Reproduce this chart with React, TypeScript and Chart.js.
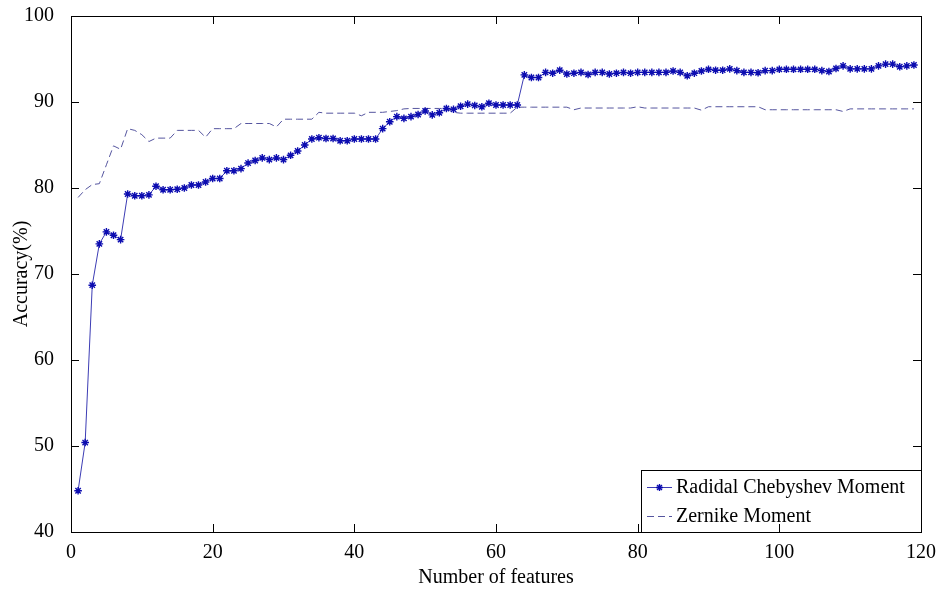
import { useEffect, useRef } from "react";
import { Chart, registerables } from "chart.js";

Chart.register(...registerables);

// Classification accuracy (%) for 1..119 selected features
const radialChebyshev = [
  44.8, 50.4, 68.7, 73.5, 74.9, 74.5, 74.0, 79.3, 79.1, 79.1,
  79.2, 80.2, 79.8, 79.8, 79.85, 80.0, 80.35, 80.35, 80.7, 81.1,
  81.1, 82.0, 82.0, 82.25, 82.9, 83.2, 83.5, 83.3, 83.5, 83.3,
  83.8, 84.3, 85.0, 85.7, 85.85, 85.75, 85.75, 85.5, 85.5, 85.7,
  85.7, 85.7, 85.7, 86.9, 87.7, 88.3, 88.1, 88.3, 88.55, 88.95,
  88.5, 88.75, 89.25, 89.15, 89.5, 89.75, 89.6, 89.45, 89.85, 89.65,
  89.65, 89.65, 89.65, 93.15, 92.85, 92.85, 93.45, 93.35, 93.7, 93.25,
  93.35, 93.45, 93.2, 93.45, 93.45, 93.25, 93.35, 93.45, 93.35, 93.45,
  93.45, 93.45, 93.45, 93.45, 93.6, 93.45, 93.05, 93.35, 93.6, 93.8,
  93.7, 93.7, 93.85, 93.65, 93.45, 93.45, 93.4, 93.65, 93.65, 93.8,
  93.8, 93.8, 93.8, 93.8, 93.8, 93.65, 93.55, 93.9, 94.2, 93.85,
  93.85, 93.85, 93.85, 94.2, 94.4, 94.4, 94.1, 94.2, 94.3,
];

const zernike = [
  78.9, 79.8, 80.4, 80.5, 82.7, 84.9, 84.5, 86.9, 86.7, 86.2,
  85.4, 85.8, 85.8, 85.8, 86.7, 86.7, 86.7, 86.7, 85.9, 86.9,
  86.9, 86.9, 86.9, 87.5, 87.5, 87.5, 87.5, 87.5, 87.1, 88.0,
  88.0, 88.0, 88.0, 88.0, 88.8, 88.7, 88.7, 88.7, 88.7, 88.7,
  88.4, 88.8, 88.8, 88.8, 88.9, 89.0, 89.2, 89.25, 89.25, 89.25,
  89.25, 89.25, 89.25, 88.8, 88.7, 88.7, 88.7, 88.7, 88.7, 88.7,
  88.7, 88.7, 89.4, 89.4, 89.4, 89.4, 89.4, 89.4, 89.4, 89.4,
  89.1, 89.3, 89.3, 89.3, 89.3, 89.3, 89.3, 89.3, 89.3, 89.45,
  89.3, 89.3, 89.3, 89.3, 89.3, 89.3, 89.3, 89.3, 89.05, 89.45,
  89.45, 89.45, 89.45, 89.45, 89.45, 89.45, 89.45, 89.1, 89.1, 89.1,
  89.1, 89.1, 89.1, 89.1, 89.1, 89.1, 89.1, 89.1, 88.9, 89.2,
  89.2, 89.2, 89.2, 89.2, 89.2, 89.2, 89.2, 89.2, 89.2,
];

// Number of features used for each accuracy value
const featureCounts = radialChebyshev.map((_, i) => i + 1);

const seriesNames = ["Radidal Chebyshev Moment", "Zernike Moment"];
const xTickValues = [0, 20, 40, 60, 80, 100, 120];
const yTickValues = [40, 50, 60, 70, 80, 90, 100];
const xTitle = "Number of features";
const yTitle = "Accuracy(%)";

const FONT = '"Liberation Serif", "Times New Roman", serif';
const CHEB_LINE = "#3c3cb4";
const CHEB_MARK = "#0c0cb0";
const ZERN_LINE = "#55559f";
const ZERN_DASH = [7, 4];

function drawStar(ctx: CanvasRenderingContext2D, x: number, y: number, r: number) {
  const d = r * Math.SQRT1_2;
  ctx.beginPath();
  ctx.moveTo(x - r, y);
  ctx.lineTo(x + r, y);
  ctx.moveTo(x, y - r);
  ctx.lineTo(x, y + r);
  ctx.moveTo(x - d, y - d);
  ctx.lineTo(x + d, y + d);
  ctx.moveTo(x - d, y + d);
  ctx.lineTo(x + d, y - d);
  ctx.stroke();
}

// Box frame, inward ticks on all four sides and the south-east legend
const framePlugin = {
  id: "boxFrame",
  afterDatasetsDraw(chart: any) {
    const { ctx, chartArea: a, scales } = chart;
    ctx.save();

    // legend box
    const lw = 280;
    const lh = 62;
    const lx = a.right - lw;
    const ly = a.bottom - lh;
    ctx.fillStyle = "#fff";
    ctx.fillRect(lx, ly, lw, lh);
    ctx.strokeStyle = "#000";
    ctx.lineWidth = 1;
    ctx.strokeRect(lx + 0.5, ly + 0.5, lw, lh);

    const row1 = ly + 17;
    const row2 = ly + 46;
    const s0 = lx + 6;
    const s1 = lx + 31;

    ctx.strokeStyle = CHEB_LINE;
    ctx.lineWidth = 1;
    ctx.beginPath();
    ctx.moveTo(s0, row1 + 0.5);
    ctx.lineTo(s1, row1 + 0.5);
    ctx.stroke();
    ctx.strokeStyle = CHEB_MARK;
    ctx.lineWidth = 1.4;
    drawStar(ctx, (s0 + s1) / 2, row1 + 0.5, 3.5);

    ctx.strokeStyle = ZERN_LINE;
    ctx.lineWidth = 1;
    ctx.setLineDash(ZERN_DASH);
    ctx.beginPath();
    ctx.moveTo(s0, row2 + 0.5);
    ctx.lineTo(s1, row2 + 0.5);
    ctx.stroke();
    ctx.setLineDash([]);

    ctx.fillStyle = "#000";
    ctx.font = `20px ${FONT}`;
    ctx.textBaseline = "middle";
    ctx.textAlign = "left";
    ctx.fillText(seriesNames[0], lx + 35, row1 + 1);
    ctx.fillText(seriesNames[1], lx + 35, row2 + 1);

    // axes box
    ctx.strokeStyle = "#000";
    ctx.lineWidth = 1;
    ctx.strokeRect(a.left + 0.5, a.top + 0.5, a.right - a.left, a.bottom - a.top);

    const len = 8;
    ctx.beginPath();
    for (const v of xTickValues) {
      const px = Math.round(scales.x.getPixelForValue(v)) + 0.5;
      ctx.moveTo(px, a.bottom);
      ctx.lineTo(px, a.bottom - len);
      ctx.moveTo(px, a.top);
      ctx.lineTo(px, a.top + len);
    }
    for (const v of yTickValues) {
      const py = Math.round(scales.y.getPixelForValue(v)) + 0.5;
      ctx.moveTo(a.left, py);
      ctx.lineTo(a.left + len, py);
      ctx.moveTo(a.right, py);
      ctx.lineTo(a.right - len, py);
    }
    ctx.stroke();
    ctx.restore();
  },
};

export default function App() {
  const canvasRef = useRef<HTMLCanvasElement | null>(null);

  useEffect(() => {
    document.body.style.margin = "0";
    const canvas = canvasRef.current;
    if (!canvas) return;

    const chart = new Chart(canvas, {
      type: "line",
      data: {
        datasets: [
          {
            label: seriesNames[0],
            data: featureCounts.map((x, i) => ({ x, y: radialChebyshev[i] })),
            borderColor: CHEB_LINE,
            borderWidth: 1,
            pointStyle: "star",
            pointRadius: 3.8,
            pointBorderWidth: 1.4,
            pointBorderColor: CHEB_MARK,
            pointBackgroundColor: CHEB_MARK,
            tension: 0,
            fill: false,
            order: 1,
          },
          {
            label: seriesNames[1],
            data: featureCounts.map((x, i) => ({ x, y: zernike[i] })),
            borderColor: ZERN_LINE,
            borderWidth: 1,
            borderDash: ZERN_DASH,
            pointRadius: 0,
            tension: 0,
            fill: false,
            order: 2,
          },
        ],
      },
      options: {
        responsive: false,
        animation: false,
        devicePixelRatio: 1,
        layout: { padding: { top: 16, right: 19, left: 0, bottom: 0 } },
        plugins: {
          legend: { display: false },
          tooltip: { enabled: false },
        },
        scales: {
          x: {
            type: "linear",
            min: 0,
            max: 120,
            grid: { display: false },
            border: { display: false },
            afterBuildTicks: (scale: any) => {
              scale.ticks = xTickValues.map((value) => ({ value }));
            },
            afterFit: (scale: any) => {
              scale.height = 60;
              scale.paddingLeft = 0;
              scale.paddingRight = 0;
            },
            ticks: {
              color: "#000",
              font: { family: FONT, size: 20 },
              padding: 1,
              maxRotation: 0,
            },
            title: {
              display: true,
              text: xTitle,
              color: "#000",
              font: { family: FONT, size: 20 },
              padding: { top: 0, bottom: 2 },
            },
          },
          y: {
            type: "linear",
            min: 40,
            max: 100,
            grid: { display: false },
            border: { display: false },
            afterBuildTicks: (scale: any) => {
              scale.ticks = yTickValues.map((value) => ({ value }));
            },
            afterFit: (scale: any) => {
              scale.width = 71;
              scale.paddingTop = 0;
              scale.paddingBottom = 0;
            },
            ticks: {
              color: "#000",
              font: { family: FONT, size: 20 },
              padding: 9,
            },
            title: {
              display: true,
              text: yTitle,
              color: "#000",
              font: { family: FONT, size: 20 },
              padding: { top: 10, bottom: 0 },
            },
          },
        },
      },
      plugins: [framePlugin],
    });

    return () => chart.destroy();
  }, []);

  return (
    <div style={{ position: "absolute", left: 0, top: 0, width: 940, height: 592, background: "#fff" }}>
      <canvas ref={canvasRef} width={940} height={592} />
    </div>
  );
}
